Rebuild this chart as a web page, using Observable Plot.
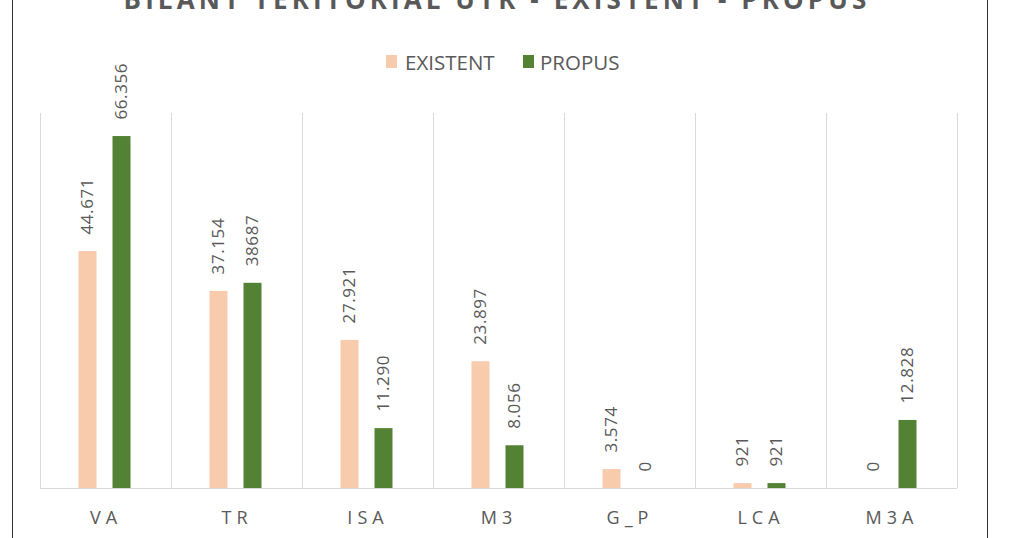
<!DOCTYPE html>
<html>
<head>
<meta charset="utf-8">
<script src="https://cdn.jsdelivr.net/npm/d3@7"></script>
<script src="https://cdn.jsdelivr.net/npm/@observablehq/plot@0.6"></script>
<style>
  html, body { margin: 0; padding: 0; background: #fff; }
  #wrap { position: relative; width: 1032px; height: 538px; overflow: hidden; font-family: "Open Sans", sans-serif; color: #595959; }
  .border { position: absolute; top: 0; width: 1px; height: 538px; background: #333; }
  #title { position: absolute; left: 0; width: 994px; text-align: center; top: -14px; font-size: 26px; line-height: 26px; font-weight: 700; letter-spacing: 4.1px; white-space: nowrap; color: #595959; }
  .sw { position: absolute; width: 11px; height: 13px; }
  .lg { position: absolute; font-size: 20.5px; line-height: 20px; white-space: nowrap; color: #595959; }
  #chart { position: absolute; left: 0; top: 0; }
  g[aria-label="x-axis tick label"] text { letter-spacing: 5px; }
  g[aria-label="text"] text { letter-spacing: 0.6px; }
</style>
</head>
<body>
<div id="wrap">
  <div id="chart"></div>
  <div class="border" style="left:12px"></div>
  <div class="border" style="left:987px"></div>
  <div id="title">BILANT TERITORIAL UTR - EXISTENT - PROPUS</div>
  <div class="sw" style="left:386px; top:55px; background:#f8cbad"></div>
  <div class="lg" style="left:405px; top:52px">EXISTENT</div>
  <div class="sw" style="left:523px; top:55px; background:#548235"></div>
  <div class="lg" style="left:540px; top:52px">PROPUS</div>
</div>
<script>
const categories = ["VA", "TR", "ISA", "M3", "G_P", "LCA", "M3A"];
const existent = [44.671, 37.154, 27.921, 23.897, 3.574, 0.921, 0];
const propus = [66.356, 38.687, 11.290, 8.056, 0, 0.921, 12.828];
const existentLabels = ["44.671", "37.154", "27.921", "23.897", "3.574", "921", "0"];
const propusLabels = ["66.356", "38687", "11.290", "8.056", "0", "921", "12.828"];

const data = categories.map((c, i) => ({
  cat: c,
  existent: existent[i],
  propus: propus[i],
  existentLabel: existentLabels[i],
  propusLabel: propusLabels[i]
}));

const grid = "#d9d9d9";
const half = (1032 - 40 - 75) / categories.length / 2;

const chart = Plot.plot({
  width: 1032,
  height: 538,
  marginLeft: 40,
  marginRight: 75,
  marginTop: 113,
  marginBottom: 50,
  style: { fontFamily: "Open Sans, sans-serif", color: "#595959", background: "transparent" },
  x: { domain: categories, padding: 0, label: null },
  y: { domain: [0, 70.7], axis: null },
  marks: [
    Plot.ruleX(categories, { x: d => d, dx: -half, stroke: grid, strokeWidth: 1 }),
    Plot.ruleX([categories[categories.length - 1]], { x: d => d, dx: half, stroke: grid, strokeWidth: 1 }),
    Plot.barY(data, { x: "cat", y: "existent", fill: "#f8cbad", insetLeft: 38.5, insetRight: 74.5 }),
    Plot.barY(data, { x: "cat", y: "propus", fill: "#548235", insetLeft: 72.5, insetRight: 40.5 }),
    Plot.ruleY([0], { stroke: grid, strokeWidth: 1 }),
    Plot.text(data, { x: "cat", y: "existent", text: "existentLabel", rotate: -90, textAnchor: "start", dx: -18, dy: -17, fontSize: 17, fill: "#595959" }),
    Plot.text(data, { x: "cat", y: "propus", text: "propusLabel", rotate: -90, textAnchor: "start", dx: 16, dy: -17, fontSize: 17, fill: "#595959" }),
    Plot.axisX({ tickSize: 0, tickPadding: 23, fontSize: 18, fill: "#595959", label: null })
  ]
});
document.getElementById("chart").appendChild(chart);
</script>
</body>
</html>
